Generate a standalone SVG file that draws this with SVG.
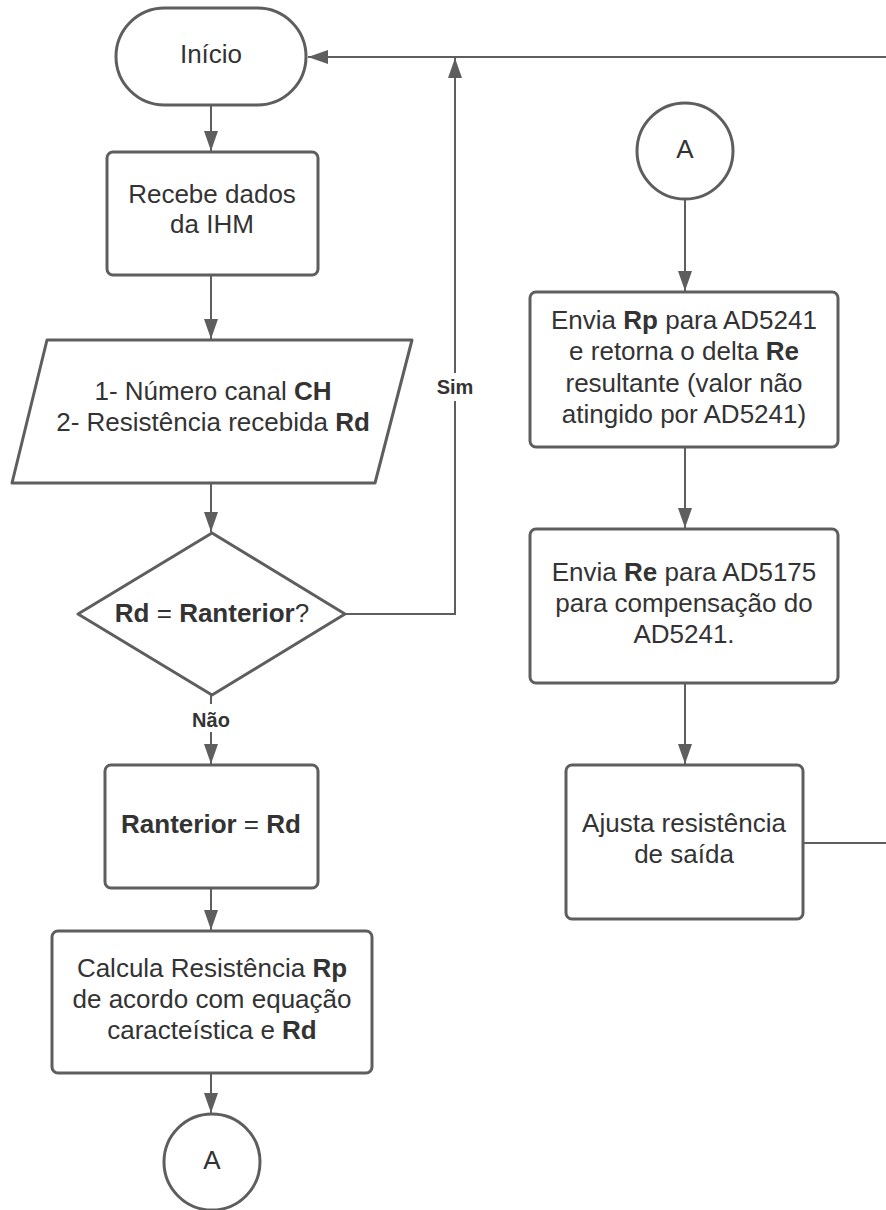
<svg xmlns="http://www.w3.org/2000/svg" width="886" height="1210" viewBox="0 0 886 1210">
<defs>
<marker id="arr" markerUnits="userSpaceOnUse" markerWidth="22" markerHeight="16" refX="20" refY="7" orient="auto">
<path d="M0,0 L20,7 L0,14 z" fill="#5e5e5e"/>
</marker>
<style>
.s{fill:#fff;stroke:#5e5e5e;stroke-width:3;stroke-linejoin:round}
.c{fill:none;stroke:#5e5e5e;stroke-width:2}
.t{font-family:"Liberation Sans",Arial,sans-serif;font-size:26px;fill:#333;text-anchor:middle}
.b{font-weight:bold}
.l{font-family:"Liberation Sans",Arial,sans-serif;font-size:20px;font-weight:bold;fill:#333;text-anchor:middle}
</style>
</defs>
<rect width="886" height="1210" fill="#fff"/>
<g id="connectors">
<line class="c" x1="211" y1="105" x2="211" y2="151" marker-end="url(#arr)"/>
<line class="c" x1="211" y1="275" x2="211" y2="339" marker-end="url(#arr)"/>
<line class="c" x1="211" y1="483" x2="211" y2="532" marker-end="url(#arr)"/>
<polyline class="c" points="345,614 455,614 455,58" marker-end="url(#arr)"/>
<line class="c" x1="886" y1="57" x2="308" y2="57" marker-end="url(#arr)"/>
<line class="c" x1="211" y1="695" x2="211" y2="764" marker-end="url(#arr)"/>
<line class="c" x1="211" y1="888" x2="211" y2="930" marker-end="url(#arr)"/>
<line class="c" x1="211" y1="1073" x2="211" y2="1113" marker-end="url(#arr)"/>
<line class="c" x1="685" y1="200" x2="685" y2="291" marker-end="url(#arr)"/>
<line class="c" x1="685" y1="447" x2="685" y2="528" marker-end="url(#arr)"/>
<line class="c" x1="685" y1="683" x2="685" y2="764" marker-end="url(#arr)"/>
<line class="c" x1="803" y1="843" x2="886" y2="843"/>
<rect x="436" y="373" width="38" height="28" fill="#fff"/>
<text class="l" x="455" y="394">Sim</text>
<rect x="190" y="704" width="42" height="28" fill="#fff"/>
<text class="l" x="211" y="727">Não</text>
</g>
<g id="inicio">
<rect class="s" x="116" y="8" width="190" height="97" rx="48.5"/>
<text class="t" x="211" y="63">Início</text>
</g>
<g id="recebe">
<rect class="s" x="107" y="152" width="211" height="123" rx="6"/>
<text class="t" x="212" y="203">Recebe dados</text>
<text class="t" x="212" y="233">da IHM</text>
</g>
<g id="entrada">
<polygon class="s" points="47,340 412,340 375,483 12,483"/>
<text class="t" x="213" y="400">1- Número canal <tspan class="b">CH</tspan></text>
<text class="t" x="213" y="431">2- Resistência recebida <tspan class="b">Rd</tspan></text>
</g>
<g id="decisao">
<polygon class="s" points="212,533 345,614 212,695 78,614"/>
<text class="t" x="212" y="622"><tspan class="b">Rd</tspan> = <tspan class="b">Ranterior</tspan>?</text>
</g>
<g id="ranterior">
<rect class="s" x="105" y="765" width="213" height="123" rx="6"/>
<text class="t" x="211" y="833"><tspan class="b">Ranterior</tspan> = <tspan class="b">Rd</tspan></text>
</g>
<g id="calcula">
<rect class="s" x="52" y="931" width="320" height="142" rx="6"/>
<text class="t" x="212" y="977">Calcula Resistência <tspan class="b">Rp</tspan></text>
<text class="t" x="212" y="1008">de acordo com equação</text>
<text class="t" x="212" y="1039">caracteística e <tspan class="b">Rd</tspan></text>
</g>
<g id="conectorA1">
<circle class="s" cx="212" cy="1162" r="48"/>
<text class="t" x="212" y="1169">A</text>
</g>
<g id="conectorA2">
<circle class="s" cx="685" cy="151" r="48"/>
<text class="t" x="685" y="158">A</text>
</g>
<g id="envia-rp">
<rect class="s" x="530" y="292" width="308" height="155" rx="6"/>
<text class="t" x="684" y="329">Envia <tspan class="b">Rp</tspan> para AD5241</text>
<text class="t" x="684" y="360">e retorna o delta <tspan class="b">Re</tspan></text>
<text class="t" x="684" y="392">resultante (valor não</text>
<text class="t" x="684" y="423">atingido por AD5241)</text>
</g>
<g id="envia-re">
<rect class="s" x="530" y="529" width="308" height="154" rx="6"/>
<text class="t" x="684" y="581">Envia <tspan class="b">Re</tspan> para AD5175</text>
<text class="t" x="684" y="612">para compensação do</text>
<text class="t" x="684" y="643">AD5241.</text>
</g>
<g id="ajusta">
<rect class="s" x="566" y="765" width="237" height="154" rx="6"/>
<text class="t" x="684" y="832">Ajusta resistência</text>
<text class="t" x="684" y="863">de saída</text>
</g>
</svg>
